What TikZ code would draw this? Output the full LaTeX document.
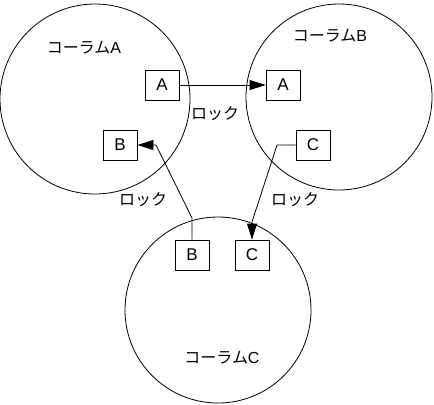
\documentclass[tikz,border=0pt]{standalone}
\usepackage{fontspec}
\setmainfont{Liberation Sans}
\newfontfamily\jpfont{Noto Sans CJK JP}
\usetikzlibrary{arrows.meta}
\begin{document}
\begin{tikzpicture}[x=1bp,y=-1bp,
  ring/.style={draw,line width=0.8bp},
  boxnode/.style={draw,line width=0.8bp,minimum width=34bp,minimum height=30bp,inner sep=0pt,font=\fontsize{17bp}{17bp}\selectfont},
  lbl/.style={inner sep=0pt,font=\fontsize{16bp}{16bp}\selectfont},
  conn/.style={line width=0.8bp,-{Triangle[length=16bp,width=10bp]}}]
\useasboundingbox (0,0) rectangle (434,404);
\draw[ring] (95,99) circle[radius=95];
\draw[ring] (339,97) circle[radius=93];
\draw[ring] (218,310) circle[radius=93];
\node[lbl] (tA) at (84,48) {{\jpfont コーラム}A};
\node[lbl] (tB) at (330,36) {{\jpfont コーラム}B};
\node[lbl] (tC) at (222,358) {{\jpfont コーラム}C};
\node[boxnode] (a1) at (162,85) {A};
\node[boxnode] (a2) at (283,85) {A};
\node[boxnode] (b1) at (120,145) {B};
\node[boxnode] (c1) at (313,145) {C};
\node[boxnode] (b2) at (192,255) {B};
\node[boxnode] (c2) at (252,255) {C};
\node[lbl] (l1) at (215,114) {\jpfont ロック};
\node[lbl] (l2) at (143,200) {\jpfont ロック};
\node[lbl] (l3) at (295,200) {\jpfont ロック};
\coordinate (p1) at (192,218);
\coordinate (p2) at (156,145);
\coordinate (q1) at (277,145);
\coordinate (q2) at (252,222);
\draw[conn] (a1.east) -- (a2.west);
\draw[conn] (b2.north) -- (p1) -- (p2) -- (b1.east);
\draw[conn] (c1.west) -- (q1) -- (q2) -- (c2.north);
\end{tikzpicture}
\end{document}
